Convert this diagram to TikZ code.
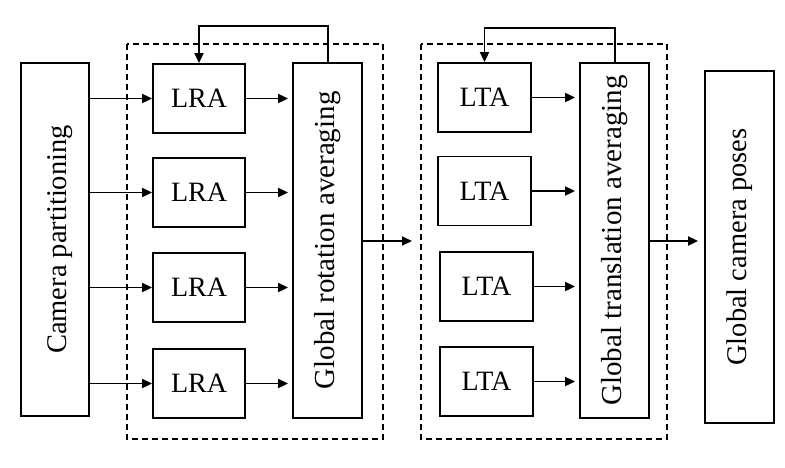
\documentclass[tikz,border=0pt]{standalone}
\usepackage{fontspec}
\setmainfont{Liberation Serif}
\usetikzlibrary{arrows.meta}
\begin{document}
\begin{tikzpicture}[x=1pt,y=-1pt,
  line width=1.8pt,
  box/.style={draw,line width=1.8pt,inner sep=0pt,font=\fontsize{28}{30}\selectfont},
  vbox/.style={box,minimum width=69pt},
  smallbox/.style={box,minimum width=92pt,minimum height=69pt},
  vtext/.style={rotate=90,font=\fontsize{#1}{#1}\selectfont},
  dbox/.style={draw,line width=1.5pt,dash pattern=on 6pt off 4pt},
  arr/.style={-{Triangle[length=10pt,width=9pt]}},
]
\useasboundingbox (0,0) rectangle (785,467);
% dashed groups
\draw[dbox] (127,44) rectangle (383,439);
\draw[dbox] (421,44) rectangle (667,439);
% camera partitioning
\node[vbox,minimum height=353pt,minimum width=68pt] (cam) at (55,239.5) {};
\node[vtext=28.5,yshift=-5pt] (camt) at (cam.center) {Camera partitioning};
% LRA boxes
\node[smallbox] (lra1) at (199,98.5) {LRA};
\node[smallbox] (lra2) at (199,192.5) {LRA};
\node[smallbox] (lra3) at (199,287.5) {LRA};
\node[smallbox] (lra4) at (199,383.5) {LRA};
% GRA
\node[vbox,minimum height=355pt] (gra) at (327.5,240.5) {};
\node[vtext=29] (grat) at (gra.center) {Global rotation averaging};
% LTA boxes
\node[smallbox,minimum width=93pt] (lta1) at (484.5,97.5) {LTA};
\node[smallbox,minimum width=93pt] (lta2) at (484.5,191) {LTA};
\node[smallbox,minimum width=93pt] (lta3) at (486.5,286.5) {LTA};
\node[smallbox,minimum width=93pt] (lta4) at (486.5,381.5) {LTA};
% GTA
\node[vbox,minimum height=355pt] (gta) at (614.5,240.5) {};
\node[vtext=29] (gtat) at (gta.center) {Global translation averaging};
% GCP
\node[vbox,minimum height=352pt] (gcp) at (739.5,247) {};
\node[vtext=28.5] (gcpt) at (gcp.center) {Global camera poses};
% arrows camera -> LRA, LRA -> GRA, LTA -> GTA
\foreach \i in {1,2,3,4}{
  \draw[arr] (cam.east |- lra\i.west) -- (lra\i.west);
  \draw[arr,shorten >=4pt] (lra\i.east) -- (lra\i.east -| gra.west);
  \draw[arr,shorten >=4pt] (lta\i.east) -- (lta\i.east -| gta.west);
}
% GRA -> second stage
\coordinate (g2in) at (412,241);
\draw[arr] (gra.east |- g2in) -- (g2in);
% GTA -> GCP
\coordinate (ylev) at (0,241);
\draw[arr,shorten >=6pt] (gta.east |- ylev) -- (gcp.west |- ylev);
% feedback loops
\coordinate (fb1) at (328,26);
\draw[arr] (gra.north -| fb1) -- (fb1) -| (lra1.north);
\coordinate (fb2) at (615,28);
\draw[arr] (gta.north -| fb2) -- (fb2) -| (lta1.north);
\end{tikzpicture}
\end{document}
